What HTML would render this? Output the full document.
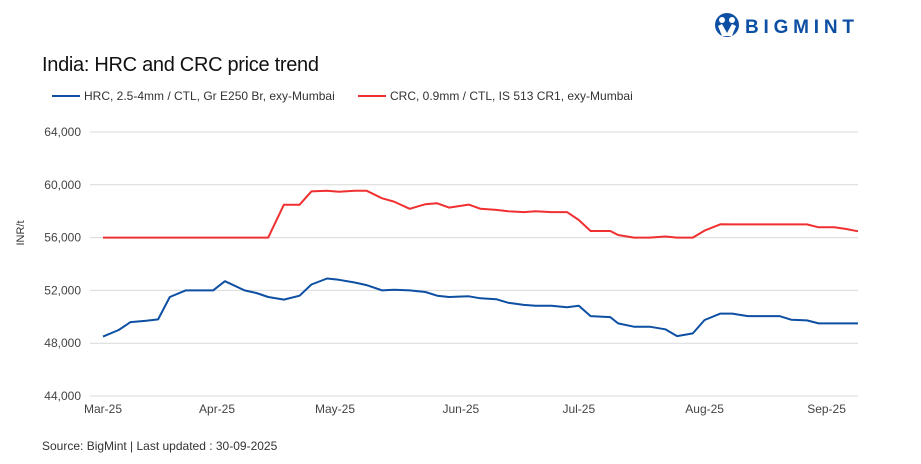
<!DOCTYPE html>
<html><head><meta charset="utf-8"><style>
body{margin:0;background:#fff;font-family:"Liberation Sans",sans-serif;}
#wrap{position:relative;width:921px;height:464px;overflow:hidden;}
</style></head><body>
<div id="wrap">
<svg id="chart" width="921" height="464" xmlns="http://www.w3.org/2000/svg">
  <g>
    <circle cx="727" cy="25" r="12" fill="#0d4fa3"/>
    <circle cx="722" cy="20" r="3" fill="#fff"/><circle cx="732" cy="20" r="3" fill="#fff"/>
    <path d="M718 26 L722 24 L727 33 L732 24 L736 26 L732 36 L722 36 Z" fill="#fff"/>
    <text x="745" y="33" font-size="19" font-weight="bold" fill="#0d4fa3" letter-spacing="4.8">BIGMINT</text>
  </g>
  <text x="42" y="71" font-size="20" fill="#111" letter-spacing="-0.3">India: HRC and CRC price trend</text>
  <g>
    <g><line x1="52" y1="96" x2="80" y2="96" stroke="#0d4fa3" stroke-width="2"/><text x="84" y="100" font-size="12" fill="#333">HRC, 2.5-4mm / CTL, Gr E250 Br, exy-Mumbai</text></g>
    <g><line x1="358" y1="96" x2="386" y2="96" stroke="#f03030" stroke-width="2"/><text x="390" y="100" font-size="12" fill="#333">CRC, 0.9mm / CTL, IS 513 CR1, exy-Mumbai</text></g>
  </g>
  <text transform="translate(24,233) rotate(-90)" font-size="11" fill="#333" text-anchor="middle">INR/t</text>
  <g id="grid"></g><g id="yt"></g><g id="xt"></g><g id="series"></g>
  <text x="42" y="450" font-size="12" fill="#333">Source: BigMint | Last updated : 30-09-2025</text>
</svg>
</div>
<script>
// days since 2025-03-01
const dayOffsets=[0,4,7,11,14,17,21,25,28,31,36,39,42,46,50,53,57,60,64,67,71,74,78,82,85,88,93,96,100,103,107,110,114,118,121,124,129,131,135,139,143,146,150,153,157,160,164,168,172,175,179,182,186,189,192];
const hrcValues=[48500,49000,49600,49700,49800,51500,52000,52000,52000,52700,52000,51800,51500,51300,51600,52450,52900,52800,52600,52400,52000,52050,52000,51880,51600,51500,51550,51400,51330,51070,50900,50830,50830,50730,50830,50050,49980,49500,49250,49250,49050,48540,48740,49760,50240,50240,50050,50050,50050,49780,49730,49500,49500,49500,49500];
const crcValues=[56000,56000,56000,56000,56000,56000,56000,56000,56000,56000,56000,56000,56000,58490,58490,59500,59550,59470,59550,59550,58980,58730,58180,58530,58600,58270,58500,58180,58100,58000,57930,58000,57930,57930,57330,56500,56500,56200,56000,56000,56080,56000,56000,56530,57010,57000,57000,57000,57000,57000,57000,56780,56780,56650,56480];
const yTicks=[44000,48000,52000,56000,60000,64000];
const xTickLabels=["Mar-25","Apr-25","May-25","Jun-25","Jul-25","Aug-25","Sep-25"];
const xTickDays=[0,29,59,91,121,153,184];

const X0=103,X1=858,Y0=396,Y1=132,DAYMAX=192;
const xs=d=>X0+(X1-X0)*d/DAYMAX;
const ys=v=>Y0-(Y0-Y1)*(v-44000)/20000;
const NS="http://www.w3.org/2000/svg";
function mk(tag,attrs,parent){const e=document.createElementNS(NS,tag);for(const k in attrs)e.setAttribute(k,attrs[k]);parent.appendChild(e);return e;}
const grid=document.getElementById('grid'),yt=document.getElementById('yt'),xt=document.getElementById('xt'),ser=document.getElementById('series');
yTicks.forEach(v=>{
  const l=mk('line',{x1:90,x2:X1,y1:ys(v),y2:ys(v),stroke:'#d9d9d9','stroke-width':1},grid);
  
  
  const t=mk('text',{x:81,y:ys(v)+4,'font-size':12,fill:'#444','text-anchor':'end'},yt);
  t.textContent=v.toLocaleString('en-US');
  
  
});
xTickLabels.forEach((s,i)=>{
  const t=mk('text',{x:xs(xTickDays[i]),y:413,'font-size':12,fill:'#444','text-anchor':'middle'},xt);
  t.textContent=s;
  
  
});
function line(vals,color,name){
  const d=vals.map((v,i)=>(i?'L':'M')+xs(dayOffsets[i]).toFixed(1)+' '+ys(v).toFixed(1)).join(' ');
  const p=mk('path',{d:d,fill:'none',stroke:color,'stroke-width':2,'stroke-linejoin':'round'},ser);
  
  
}
line(crcValues,'#f03030','crc-line');
line(hrcValues,'#0d4fa3','hrc-line');
</script>
</body></html>
